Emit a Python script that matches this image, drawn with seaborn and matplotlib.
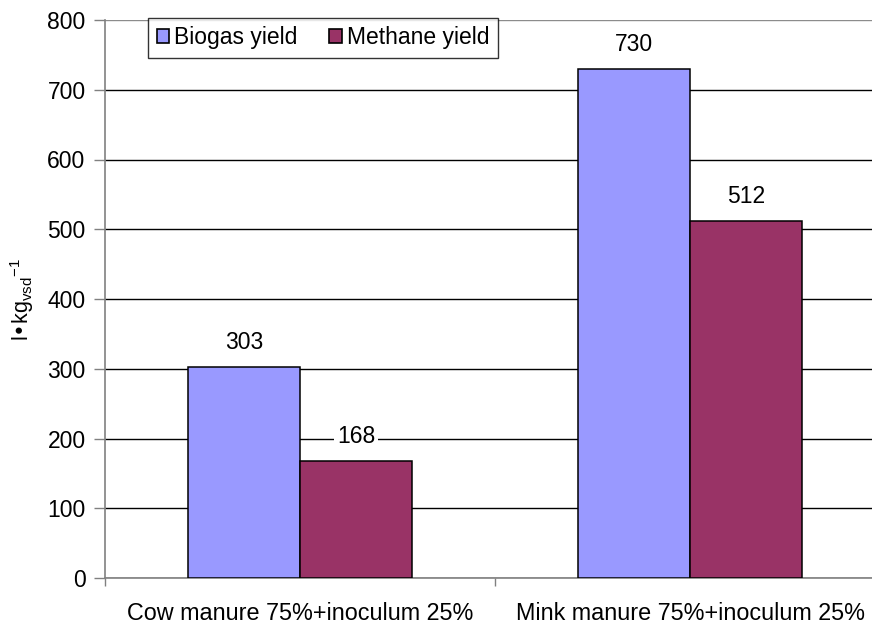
import matplotlib
matplotlib.use("Agg")
import matplotlib.pyplot as plt
import seaborn as sns
import pandas as pd
from matplotlib.ticker import FixedLocator

categories = ["Cow manure 75%+inoculum 25%", "Mink manure 75%+inoculum 25%"]
series = ["Biogas yield", "Methane yield"]
biogas = [303, 730]
methane = [168, 512]
y_ticks = [0, 100, 200, 300, 400, 500, 600, 700, 800]
colors = ["#9999FF", "#993366"]

df = pd.DataFrame({
    "category": categories * 2,
    "series": [series[0]] * 2 + [series[1]] * 2,
    "value": biogas + methane,
})

sns.set_style("white")
plt.rcParams["font.family"] = ["Liberation Sans", "DejaVu Sans"]
plt.rcParams["text.color"] = "black"
plt.rcParams["axes.labelcolor"] = "black"

FS = 16.5

fig = plt.figure(figsize=(8.72, 6.26), dpi=100)
ax = fig.add_axes([105 / 872, 48 / 626, 780 / 872, 558 / 626])

sns.barplot(data=df, x="category", y="value", hue="series", palette=colors,
            saturation=1, width=0.574, edgecolor="black", linewidth=1.1,
            ax=ax, zorder=3, legend=True)

ax.set_xlim(-0.5, 1.5)
ax.set_ylim(0, 800)
ax.yaxis.set_major_locator(FixedLocator(y_ticks))
ax.set_axisbelow(True)
ax.grid(axis="y", color="black", linewidth=1.0, zorder=0)
ax.grid(axis="x", visible=False)
ax.yaxis.get_gridlines()[-1].set_color("#8c8c8c")

for side in ["top", "right"]:
    ax.spines[side].set_visible(False)
for side in ["left", "bottom"]:
    ax.spines[side].set_color("#808080")
    ax.spines[side].set_linewidth(1.2)

ax.tick_params(axis="y", direction="out", length=8, color="#808080", width=1,
               left=True, labelsize=FS, labelcolor="black", pad=6)
ax.set_xticks([0, 1])
ax.set_xticklabels(categories, fontsize=16.8)
ax.tick_params(axis="x", which="major", length=0, pad=17, labelcolor="black")
ax.xaxis.set_minor_locator(FixedLocator([-0.5, 0.5, 1.5]))
ax.tick_params(axis="x", which="minor", direction="out", length=6,
               color="#808080", width=1, bottom=True)
ax.set_xlabel("")
ax.set_ylabel("l\u2022kg$_{\\mathregular{vsd}}$$^{\\mathregular{-1}}$",
              fontsize=15.5, labelpad=8, color="black")

for cont in ax.containers:
    for bar in cont:
        h = bar.get_height()
        ax.annotate(f"{h:.0f}", (bar.get_x() + bar.get_width() / 2, h),
                    xytext=(0, 24), textcoords="offset pixels",
                    ha="center", va="center", fontsize=FS, zorder=5,
                    color="black",
                    bbox=dict(facecolor="white", edgecolor="none", pad=2))

leg = ax.legend(loc="upper left", bbox_to_anchor=(43 / 780, 1.004), ncol=2,
                frameon=True, fancybox=False, fontsize=FS, handlelength=0.55,
                handleheight=0.55, handletextpad=0.2, columnspacing=1.4,
                borderpad=0.38, borderaxespad=0)
leg.get_frame().set_edgecolor("black")
leg.get_frame().set_linewidth(1.0)
for t in leg.get_texts():
    t.set_color("black")
for h in leg.legend_handles:
    h.set_edgecolor("black")
    h.set_linewidth(1.2)

fig.savefig("out.png", dpi=100)
